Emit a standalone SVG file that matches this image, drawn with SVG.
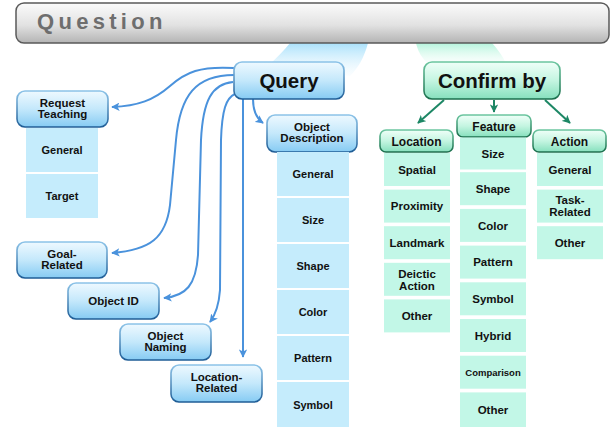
<svg xmlns="http://www.w3.org/2000/svg" width="612" height="427" viewBox="0 0 612 427">
  <defs>
    <linearGradient id="barFill" x1="0" y1="0" x2="0" y2="1">
      <stop offset="0" stop-color="#fbfbfb"/>
      <stop offset="0.55" stop-color="#e2e2e2"/>
      <stop offset="1" stop-color="#b4b4b4"/>
    </linearGradient>
    <linearGradient id="blueNode" x1="0" y1="0" x2="0" y2="1">
      <stop offset="0" stop-color="#eef9ff"/>
      <stop offset="0.5" stop-color="#c4e8fb"/>
      <stop offset="1" stop-color="#86cbf3"/>
    </linearGradient>
    <linearGradient id="blueEdge" x1="0" y1="0" x2="0" y2="1">
      <stop offset="0" stop-color="#8cc3e8"/>
      <stop offset="1" stop-color="#1f5d96"/>
    </linearGradient>
    <linearGradient id="greenNode" x1="0" y1="0" x2="0" y2="1">
      <stop offset="0" stop-color="#effff8"/>
      <stop offset="0.5" stop-color="#c4f5e1"/>
      <stop offset="1" stop-color="#86e0bd"/>
    </linearGradient>
    <linearGradient id="greenEdge" x1="0" y1="0" x2="0" y2="1">
      <stop offset="0" stop-color="#6cc6a0"/>
      <stop offset="1" stop-color="#1a6e4c"/>
    </linearGradient>
    <linearGradient id="blueBeam" x1="0" y1="0" x2="0" y2="1">
      <stop offset="0" stop-color="#a9e1fb"/>
      <stop offset="1" stop-color="#e9f7fe" stop-opacity="0.2"/>
    </linearGradient>
    <linearGradient id="greenBeam" x1="0" y1="0" x2="0" y2="1">
      <stop offset="0" stop-color="#b4f4dc"/>
      <stop offset="1" stop-color="#e8fcf4" stop-opacity="0.2"/>
    </linearGradient>
    <marker id="arrBlue" viewBox="0 0 10 10" refX="9" refY="5" markerWidth="4.2" markerHeight="4.2" orient="auto" markerUnits="strokeWidth">
      <path d="M0,0 L10,5 L0,10 L2.5,5 Z" fill="#4a92dc"/>
    </marker>
    <marker id="arrGreen" viewBox="0 0 10 10" refX="9" refY="5" markerWidth="4.2" markerHeight="4.2" orient="auto" markerUnits="strokeWidth">
      <path d="M0,0 L10,5 L0,10 L2.5,5 Z" fill="#1d8765"/>
    </marker>
  </defs>
  <style>
    text { font-family: "Liberation Sans", Arial, sans-serif; font-weight: bold; fill: #111; text-anchor: middle; }
    .big { font-size: 20.5px; }
    .lbl { font-size: 11.5px; }
    .cl { font-size: 11px; }
    .cr { font-size: 11.5px; }
    .hd { font-size: 12px; }
    .bnode { fill: url(#blueNode); stroke: url(#blueEdge); stroke-width: 1.6; }
    .gnode { fill: url(#greenNode); stroke: url(#greenEdge); stroke-width: 1.6; }
    .bcell { fill: #c5ecfc; }
    .gcell { fill: #c2f7e7; }
    .qline { fill: none; stroke: #4a92dc; stroke-width: 2; marker-end: url(#arrBlue); }
    .cline { fill: none; stroke: #1d8765; stroke-width: 2; marker-end: url(#arrGreen); }
  </style>

  <!-- light beams from the bar down to the two branches -->
  <path d="M290,43 L368,43 C364,58 358,68 350,76 L268,66 C276,58 284,51 290,43 Z" fill="url(#blueBeam)"/>
  <path d="M416,43 L492,43 C498,50 503,56 506,64 L428,64 C422,58 418,52 416,43 Z" fill="url(#greenBeam)"/>

  <!-- title bar -->
  <g id="question">
    <rect x="16" y="3" width="593" height="40" rx="8" fill="url(#barFill)" stroke="#5a5a5a" stroke-width="1.5"/>
    <text x="37" y="29" style="font-size:22px; fill:#6e6e6e; text-anchor:start; letter-spacing:4.3px">Question</text>
  </g>

  <!-- connectors -->
  <g id="connectors">
    <path class="qline" d="M234,68 C200,66 186,72 170,86 C154,100 138,106 112,107"/>
    <path class="qline" d="M234,75 C196,75 180,95 176,140 L170,205 C166,238 150,250 112,253"/>
    <path class="qline" d="M233,82 C212,84 203,100 201,140 L198,255 C196,285 186,296 164,298"/>
    <path class="qline" d="M235,94 C226,98 222,110 221,140 L220,290 C219,304 216,314 210,322"/>
    <path class="qline" d="M243,99 L243,357"/>
    <path class="qline" d="M253,99 C253,111 256,118 263,123"/>
    <path class="cline" d="M444,100 L418,123"/>
    <path class="cline" d="M494,100 L494,112"/>
    <path class="cline" d="M545,100 L570,123"/>
  </g>

  <!-- Query branch -->
  <g id="query">
    <rect class="bnode" x="234" y="62" width="110" height="37" rx="8"/>
    <text class="big" x="289" y="88">Query</text>
  </g>

  <g id="request-teaching">
    <rect class="bnode" x="17" y="91" width="91" height="36" rx="8"/>
    <text class="lbl" x="62.5" y="106.5">Request</text>
    <text class="lbl" x="62.5" y="118">Teaching</text>
    <rect class="bcell" x="26" y="128" width="72" height="44"/>
    <text class="cl" x="62" y="154">General</text>
    <rect class="bcell" x="26" y="174" width="72" height="44"/>
    <text class="cl" x="62" y="200">Target</text>
  </g>

  <g id="goal-related">
    <rect class="bnode" x="17" y="242" width="90" height="36" rx="8"/>
    <text class="lbl" x="62" y="257.5">Goal-</text>
    <text class="lbl" x="62" y="269">Related</text>
  </g>

  <g id="object-id">
    <rect class="bnode" x="68" y="283" width="91" height="36" rx="8"/>
    <text class="lbl" x="113.5" y="305">Object ID</text>
  </g>

  <g id="object-naming">
    <rect class="bnode" x="120" y="324" width="91" height="36" rx="8"/>
    <text class="lbl" x="165.5" y="339.5">Object</text>
    <text class="lbl" x="165.5" y="351">Naming</text>
  </g>

  <g id="location-related">
    <rect class="bnode" x="171" y="365" width="91" height="37" rx="8"/>
    <text class="lbl" x="216.5" y="380.5">Location-</text>
    <text class="lbl" x="216.5" y="392">Related</text>
  </g>

  <g id="object-description">
    <rect class="bnode" x="267" y="115" width="90" height="37" rx="8"/>
    <text class="lbl" x="312" y="130.5">Object</text>
    <text class="lbl" x="312" y="142">Description</text>
    <rect class="bcell" x="277" y="152" width="72" height="44"/>
    <text class="cl" x="313" y="178">General</text>
    <rect class="bcell" x="277" y="198" width="72" height="44"/>
    <text class="cl" x="313" y="224">Size</text>
    <rect class="bcell" x="277" y="244" width="72" height="44"/>
    <text class="cl" x="313" y="270">Shape</text>
    <rect class="bcell" x="277" y="290" width="72" height="44"/>
    <text class="cl" x="313" y="316">Color</text>
    <rect class="bcell" x="277" y="336" width="72" height="44"/>
    <text class="cl" x="313" y="362">Pattern</text>
    <rect class="bcell" x="277" y="382" width="72" height="45"/>
    <text class="cl" x="313" y="408.5">Symbol</text>
  </g>

  <!-- Confirm branch -->
  <g id="confirm-by">
    <rect class="gnode" x="424" y="62" width="136" height="37" rx="8"/>
    <text class="big" x="492" y="88">Confirm by</text>
  </g>

  <g id="location">
    <rect class="gnode" x="380" y="130" width="73" height="22" rx="6"/>
    <text class="hd" x="416.5" y="145.5">Location</text>
    <rect class="gcell" x="384" y="153" width="66" height="33"/>
    <text class="cr" x="417" y="173.5">Spatial</text>
    <rect class="gcell" x="384" y="189.6" width="66" height="33"/>
    <text class="cr" x="417" y="210">Proximity</text>
    <rect class="gcell" x="384" y="226.2" width="66" height="33"/>
    <text class="cr" x="417" y="246.7">Landmark</text>
    <rect class="gcell" x="384" y="262.8" width="66" height="33"/>
    <text class="cr" x="417" y="277.5">Deictic</text>
    <text class="cr" x="417" y="289.5">Action</text>
    <rect class="gcell" x="384" y="299.4" width="66" height="33"/>
    <text class="cr" x="417" y="320">Other</text>
  </g>

  <g id="feature">
    <rect class="gnode" x="457" y="115" width="74" height="22" rx="6"/>
    <text class="hd" x="494" y="130.5">Feature</text>
    <rect class="gcell" x="460" y="137.5" width="66" height="32"/>
    <text class="cr" x="493" y="157.5">Size</text>
    <rect class="gcell" x="460" y="172.2" width="66" height="33"/>
    <text class="cr" x="493" y="192.8">Shape</text>
    <rect class="gcell" x="460" y="208.9" width="66" height="33"/>
    <text class="cr" x="493" y="229.5">Color</text>
    <rect class="gcell" x="460" y="245.6" width="66" height="33"/>
    <text class="cr" x="493" y="266.2">Pattern</text>
    <rect class="gcell" x="460" y="282.3" width="66" height="33"/>
    <text class="cr" x="493" y="302.9">Symbol</text>
    <rect class="gcell" x="460" y="319" width="66" height="33"/>
    <text class="cr" x="493" y="339.6">Hybrid</text>
    <rect class="gcell" x="460" y="355.7" width="66" height="33"/>
    <text x="493" y="375.5" style="font-size:9.5px">Comparison</text>
    <rect class="gcell" x="460" y="392.4" width="66" height="34.6"/>
    <text class="cr" x="493" y="413.5">Other</text>
  </g>

  <g id="action">
    <rect class="gnode" x="533" y="130" width="73" height="22" rx="6"/>
    <text class="hd" x="569.5" y="145.5">Action</text>
    <rect class="gcell" x="537" y="153" width="66" height="33"/>
    <text class="cr" x="570" y="173.5">General</text>
    <rect class="gcell" x="537" y="189.6" width="66" height="33"/>
    <text class="cr" x="570" y="204.3">Task-</text>
    <text class="cr" x="570" y="216.3">Related</text>
    <rect class="gcell" x="537" y="226.2" width="66" height="33"/>
    <text class="cr" x="570" y="246.7">Other</text>
  </g>
</svg>
